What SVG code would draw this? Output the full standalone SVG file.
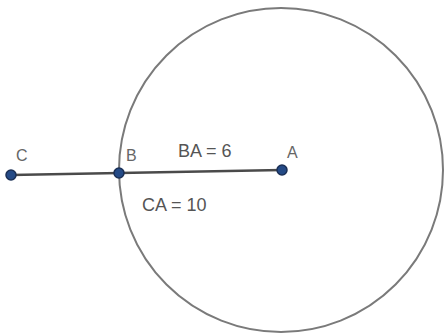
<svg xmlns="http://www.w3.org/2000/svg" width="444" height="335" viewBox="0 0 444 335">
<style>
.pt{fill:#244a86;stroke:#1a2f55;stroke-width:1.5}
.lbl{font-family:"Liberation Sans",Arial,sans-serif;font-size:16px;fill:#666}
.meas{font-family:"Liberation Sans",Arial,sans-serif;font-size:18px;fill:#555}
.seg{stroke:#4a4a4a;stroke-width:2.5;fill:none}
.circ{stroke:#7a7a7a;stroke-width:2;fill:none}
</style>
<rect width="444" height="335" fill="#ffffff"/>
<circle class="circ" cx="281" cy="170" r="162"/>
<g id="connectors">
<line class="seg" x1="11" y1="175" x2="282" y2="170"/>
</g>
<g id="C">
<circle class="pt" cx="11" cy="175" r="5"/>
<text class="lbl" x="16" y="161">C</text>
</g>
<g id="B">
<circle class="pt" cx="119" cy="173" r="5"/>
<text class="lbl" x="126" y="161">B</text>
</g>
<g id="A">
<circle class="pt" cx="282" cy="170" r="5"/>
<text class="lbl" x="287" y="158">A</text>
</g>
<text class="meas" x="178" y="157">BA = 6</text>
<text class="meas" x="142" y="211">CA = 10</text>
</svg>
